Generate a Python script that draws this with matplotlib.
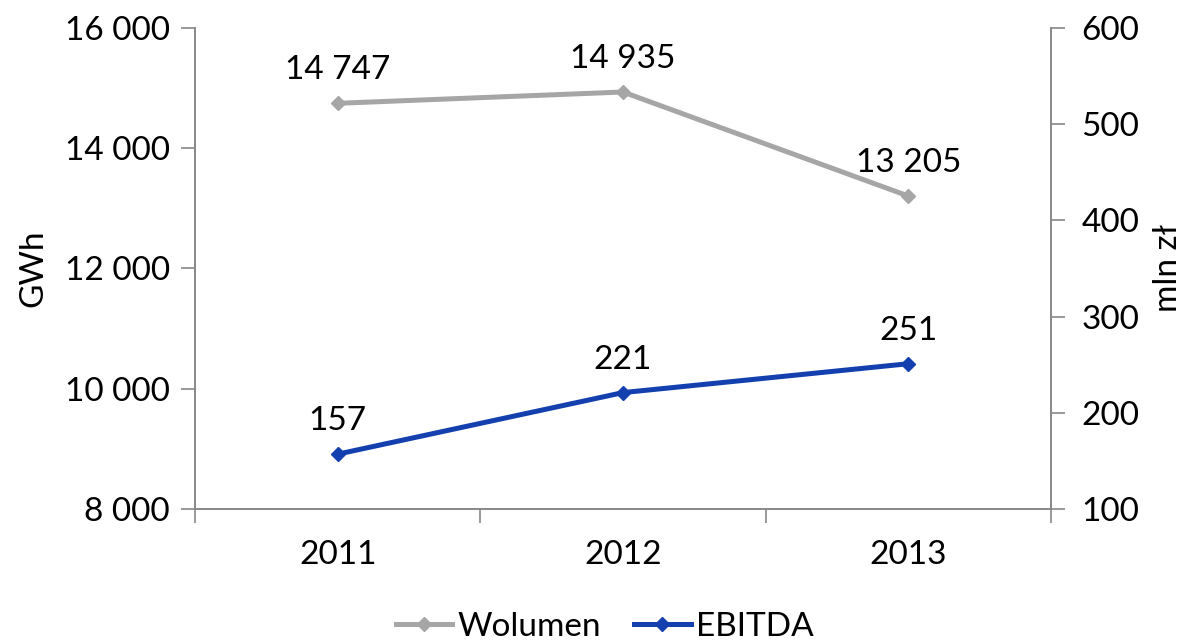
import matplotlib.pyplot as plt
from matplotlib.ticker import FuncFormatter

plt.rcParams['font.family'] = ['Lato', 'DejaVu Sans']

years = ['2011', '2012', '2013']
wolumen = [14747, 14935, 13205]   # GWh, left axis
ebitda = [157, 221, 251]          # mln zł, right axis

gray = '#A6A6A6'
blue = '#1340AE'
spine_col = '#888888'
fs = 24

fig = plt.figure(figsize=(11.9, 6.4), dpi=100)
ax = fig.add_axes([0.1639, 0.2047, 0.7193, 0.7516])
ax2 = ax.twinx()

x = [0.5, 1.5, 2.5]
l1, = ax.plot(x, wolumen, color=gray, lw=3.6, marker='D', ms=7, label='Wolumen')
l2, = ax2.plot(x, ebitda, color=blue, lw=3.6, marker='D', ms=7, label='EBITDA')

def spaced(v, pos=None):
    return f'{int(round(v)):,}'.replace(',', ' ')

for xi, v in zip(x, wolumen):
    ax.annotate(spaced(v), (xi, v), xytext=(0, 13), textcoords='offset points',
                ha='center', va='bottom', fontsize=fs)
for xi, v in zip(x, ebitda):
    ax2.annotate(str(v), (xi, v), xytext=(0, 13), textcoords='offset points',
                 ha='center', va='bottom', fontsize=fs)

ax.set_xlim(0, 3)
ax.set_ylim(8000, 16000)
ax.set_yticks([8000, 10000, 12000, 14000, 16000])
ax.yaxis.set_major_formatter(FuncFormatter(spaced))
ax2.set_ylim(100, 600)
ax2.set_yticks([100, 200, 300, 400, 500, 600])

ax.set_xticks([0, 1, 2, 3])
ax.set_xticklabels([])
ax.set_xticks(x, minor=True)
ax.set_xticklabels(years, minor=True)
ax.tick_params(axis='x', which='minor', length=0, pad=22, labelsize=fs)
ax.tick_params(axis='x', which='major', length=10, width=1.2, color=spine_col, direction='out')
ax.tick_params(axis='y', length=10, width=1.2, color=spine_col, direction='out', labelsize=fs, pad=8)
ax2.tick_params(axis='y', length=10, width=1.2, color=spine_col, direction='out', labelsize=fs, pad=12)

for a in (ax, ax2):
    a.spines['top'].set_visible(False)
    for s in ('left', 'right', 'bottom'):
        a.spines[s].set_color(spine_col)
        a.spines[s].set_linewidth(1.2)

ax.set_ylabel('GWh', fontsize=fs, labelpad=12)
ax2.set_ylabel('mln zł', fontsize=fs, rotation=90, labelpad=10)

fig.legend(handles=[l1, l2], loc='lower center', bbox_to_anchor=(0.508, -0.05), ncol=2,
           frameon=False, fontsize=fs, handlelength=1.7, handletextpad=0.15, columnspacing=1.0)

fig.savefig('out.png', dpi=100)
